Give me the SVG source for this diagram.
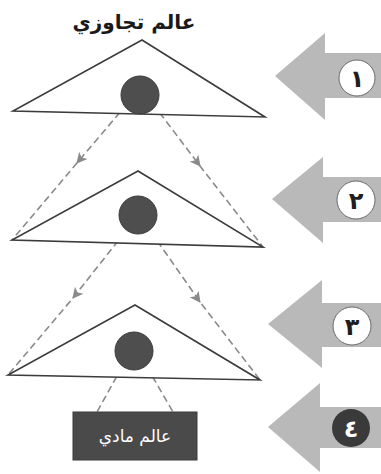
<svg xmlns="http://www.w3.org/2000/svg" width="381" height="474" viewBox="0 0 381 474">
<style>
.tri{fill:#fff;stroke:#3c3c3c;stroke-width:1.6;stroke-linejoin:miter}
.ball{fill:#4e4e4e;stroke:#3a3a3a;stroke-width:1}
.con{fill:none;stroke:#8a8a8a;stroke-width:1.6;stroke-dasharray:7 4}
.blk{fill:#b9b9b9}
.num{fill:#fff;stroke:#6a6a6a;stroke-width:1}
.numt{font-family:"DejaVu Sans",sans-serif;font-size:24px;font-weight:bold;fill:#1e1e1e;text-anchor:middle}
.title{font-family:"DejaVu Sans",sans-serif;font-size:20px;font-weight:bold;fill:#1a1a1a;text-anchor:middle}
.box{fill:#4a4a4a;stroke:#3a3a3a;stroke-width:1}
.boxt{font-family:"DejaVu Sans",sans-serif;font-size:17px;fill:#fff;text-anchor:middle}
</style>
<defs>
<marker id="ah" viewBox="0 0 10 10" refX="9" refY="5" markerWidth="13" markerHeight="11" markerUnits="userSpaceOnUse" orient="auto">
<path d="M0,0 L10,5 L0,10 L2.5,5 Z" fill="#8a8a8a"/>
</marker>
</defs>
<g id="title"><text class="title" x="134" y="29">عالم تجاوزي</text></g>
<g id="connectors">
<polyline class="con" points="127,104 77,163 12,240" marker-mid="url(#ah)"/>
<polyline class="con" points="153,104 200,166 263,247" marker-mid="url(#ah)"/>
<polyline class="con" points="125,232 73,298 8,375" marker-mid="url(#ah)"/>
<polyline class="con" points="151,232 200,302 260,380" marker-mid="url(#ah)"/>
<line class="con" x1="122" y1="367" x2="97" y2="412"/>
<line class="con" x1="147" y1="367" x2="173" y2="412"/>
</g>
<g id="level1">
<polygon class="tri" points="142,40 13,111 265,117"/>
<circle class="ball" cx="140" cy="95" r="19"/>
</g>
<g id="level2">
<polygon class="tri" points="138,171 12,240 263,247"/>
<circle class="ball" cx="138" cy="215" r="19"/>
</g>
<g id="level3">
<polygon class="tri" points="135,305 8,375 260,380"/>
<circle class="ball" cx="134" cy="351" r="19"/>
</g>
<g id="level4">
<rect class="box" x="73" y="412" width="124" height="48"/>
<text class="boxt" x="135" y="442">عالم مادي</text>
</g>
<g id="step1">
<polygon class="blk" points="275,76 325,33 325,53 381,53 381,98 325,98 325,120"/>
<circle class="num" cx="357" cy="78" r="18"/>
<text class="numt" x="357" y="87">١</text>
</g>
<g id="step2">
<polygon class="blk" points="272,199 323,157 323,177 381,177 381,222 323,222 323,243"/>
<circle class="num" cx="356" cy="200" r="19"/>
<text class="numt" x="356" y="209">٢</text>
</g>
<g id="step3">
<polygon class="blk" points="268,324 322,280 322,303 381,303 381,347 322,347 322,368"/>
<circle class="num" cx="352" cy="326" r="19"/>
<text class="numt" x="352" y="335">٣</text>
</g>
<g id="step4">
<polygon class="blk" points="268,427 320,383 320,407 381,407 381,448 320,448 320,472"/>
<circle cx="351" cy="428" r="19" fill="#3a3a3a"/>
<text class="numt" x="351" y="437" style="fill:#fff">٤</text>
</g>
</svg>
